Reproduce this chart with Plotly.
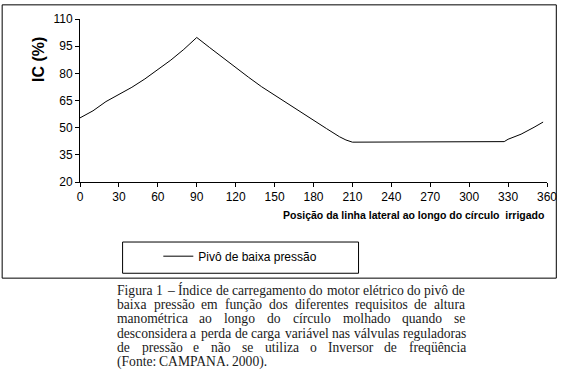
import unicodedata
import plotly.graph_objects as go

# ---------------- data ----------------
posicao = [0, 10, 20, 30, 40, 50, 60, 70, 80, 90, 100, 110, 120, 130, 140, 150,
           160, 170, 180, 190, 200, 205, 210, 240, 270, 300, 327, 330, 340, 350, 357]
ic_pct = [55.4, 59.3, 64.4, 68.3, 72.3, 76.9, 82.0, 87.3, 93.2, 99.8, 94.2, 88.6,
          83.2, 77.8, 72.6, 67.9, 63.3, 58.7, 54.0, 49.5, 45.0, 43.2, 42.0, 42.0,
          42.0, 42.0, 42.3, 43.6, 46.4, 50.2, 53.1]
x_ticks = [0, 30, 60, 90, 120, 150, 180, 210, 240, 270, 300, 330, 360]
y_ticks = [20, 35, 50, 65, 80, 95, 110]
series_name = "Pivô de baixa pressão"
y_title = "IC (%)"
x_title = "Posição da linha lateral ao longo do círculo  irrigado"
caption_lines = [
    "Figura 1 – Índice de carregamento do motor elétrico do pivô de",
    "baixa pressão em função dos diferentes requisitos de altura",
    "manométrica ao longo do círculo molhado quando se",
    "desconsidera a perda de carga variável nas válvulas reguladoras",
    "de pressão e não se utiliza o Inversor de freqüência",
    "(Fonte: CAMPANA. 2000).",
]

# ---------------- layout geometry (pixels) ----------------
W, H = 569, 372
ML, MR, MT, MB = 80, 12, 15, 190
PW = W - ML - MR
PH = H - MT - MB


def px(xp):
    return (xp - ML) / PW


def py(yp):
    return (H - MB - yp) / PH


SANS = "Liberation Sans, Arial, sans-serif"
SERIF = "Liberation Serif, Times New Roman, serif"

fig = go.Figure()
fig.add_trace(go.Scatter(x=posicao, y=ic_pct, mode="lines", name=series_name,
                         line=dict(color="black", width=1), showlegend=True))

fig.update_layout(
    width=W, height=H,
    margin=dict(l=ML, r=MR, t=MT, b=MB),
    paper_bgcolor="white", plot_bgcolor="white",
    font=dict(family=SANS, size=12, color="black"),
    xaxis=dict(range=[0, 360], tickmode="array", tickvals=x_ticks,
               ticks="outside", ticklen=4, tickcolor="black",
               showline=True, linecolor="black", linewidth=1,
               showgrid=False, zeroline=False,
               tickfont=dict(family=SANS, size=12)),
    yaxis=dict(range=[20, 110], tickmode="array", tickvals=y_ticks,
               ticks="outside", ticklen=4, tickcolor="black",
               showline=True, linecolor="black", linewidth=1,
               showgrid=False, zeroline=False,
               tickfont=dict(family=SANS, size=12)),
    legend=dict(x=px(160), y=py(258), xanchor="left", yanchor="middle",
                bgcolor="rgba(0,0,0,0)", borderwidth=0,
                font=dict(family=SANS, size=12)),
    showlegend=True,
)

# outer border and legend box
fig.add_shape(type="rect", xref="paper", yref="paper",
              x0=px(0.5), x1=px(566.5), y0=py(0.5), y1=py(280.5),
              line=dict(color="black", width=1))
fig.add_shape(type="rect", xref="paper", yref="paper",
              x0=px(123.5), x1=px(364.5), y0=py(243.5), y1=py(275.5),
              line=dict(color="black", width=1))

# axis titles
fig.add_annotation(xref="paper", yref="paper", x=px(37), y=py(56),
                   xanchor="center", yanchor="middle",
                   text="<b>" + y_title + "</b>", textangle=-90, showarrow=False,
                   font=dict(family=SANS, size=16))
fig.add_annotation(xref="paper", yref="paper", x=px(556), y=py(216),
                   xanchor="right", yanchor="middle",
                   text="<b>" + x_title + "</b>", showarrow=False,
                   font=dict(family=SANS, size=10.5))

# caption: justified text, word by word (Times metrics, 1/1000 em)
TW = {' ': 250, 'a': 444, 'b': 500, 'c': 444, 'd': 500, 'e': 444, 'f': 333, 'g': 500,
      'h': 500, 'i': 278, 'j': 278, 'k': 500, 'l': 278, 'm': 778, 'n': 500, 'o': 500,
      'p': 500, 'q': 500, 'r': 333, 's': 389, 't': 278, 'u': 500, 'v': 500, 'w': 722,
      'x': 500, 'y': 500, 'z': 444, 'A': 722, 'B': 667, 'C': 667, 'D': 722, 'E': 611,
      'F': 556, 'G': 722, 'H': 722, 'I': 333, 'J': 389, 'K': 722, 'L': 611, 'M': 889,
      'N': 722, 'O': 722, 'P': 556, 'Q': 722, 'R': 667, 'S': 556, 'T': 611, 'U': 722,
      'V': 722, 'W': 944, 'X': 722, 'Y': 722, 'Z': 611, '.': 250, ',': 250, ':': 278,
      '(': 333, ')': 333, '–': 500}
for d in "0123456789":
    TW[d] = 500

CAP_SIZE = 13.6
CAP_LEFT, CAP_RIGHT = 117, 472
CAP_TOP, CAP_STEP = 293, 14.6


def word_w(w):
    tot = 0
    for ch in w:
        base = unicodedata.normalize("NFD", ch)[0]
        tot += TW.get(base, 500)
    return tot * CAP_SIZE / 1000.0


for i, line in enumerate(caption_lines):
    words = line.split(" ")
    widths = [word_w(w) for w in words]
    space = TW[' '] * CAP_SIZE / 1000.0
    gaps = len(words) - 1
    if i < len(caption_lines) - 1 and gaps > 0:
        gap = (CAP_RIGHT - CAP_LEFT - sum(widths)) / gaps
    else:
        gap = space
    xcur = CAP_LEFT
    ycap = CAP_TOP + i * CAP_STEP
    for w, ww in zip(words, widths):
        fig.add_annotation(xref="paper", yref="paper", x=px(xcur), y=py(ycap),
                           xanchor="left", yanchor="middle", text=w,
                           showarrow=False, borderpad=0,
                           font=dict(family=SERIF, size=CAP_SIZE, color="#1a1a1a"))
        xcur += ww + gap

fig.write_html("out.html",
               config={"displayModeBar": False, "staticPlot": True},
               post_script="document.body.style.margin='0';"
                           "document.body.style.padding='0';")
